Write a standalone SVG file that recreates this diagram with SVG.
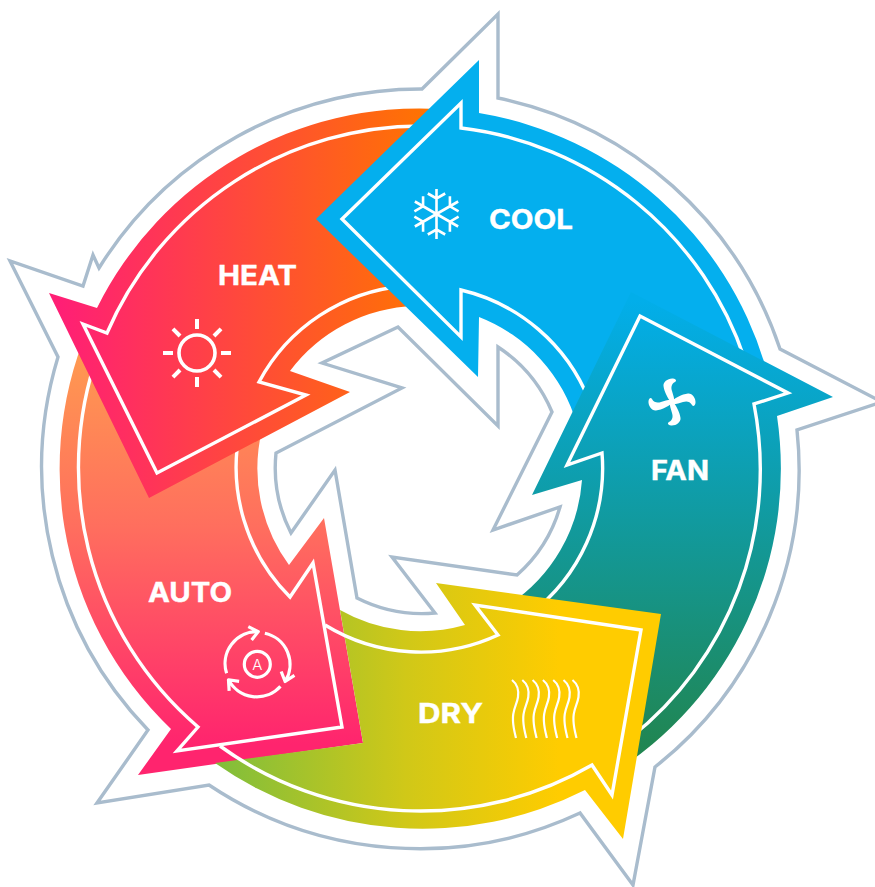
<svg xmlns="http://www.w3.org/2000/svg" xmlns:xlink="http://www.w3.org/1999/xlink" width="875" height="887" viewBox="0 0 875 887">
<style>
.grey{fill:none;stroke:#a9bccd;stroke-width:3.4;stroke-linejoin:miter}
.wl{fill:none;stroke:#fff;stroke-width:3.4;stroke-linejoin:miter}
.ic{fill:none;stroke:#fff;stroke-linecap:butt}
.lb{font-family:"Inter","Liberation Sans",sans-serif;font-weight:700;font-size:27px;fill:#fff;stroke:#fff;stroke-width:0.4}
</style>
<defs>
<linearGradient id="gHeat" gradientUnits="userSpaceOnUse" x1="60" y1="0" x2="430" y2="0"><stop offset="0" stop-color="#ff1f75"/><stop offset="1" stop-color="#ff7400"/></linearGradient>
<linearGradient id="gAuto" gradientUnits="userSpaceOnUse" x1="0" y1="350" x2="0" y2="745"><stop offset="0" stop-color="#ff9a50"/><stop offset="0.45" stop-color="#ff6e5e"/><stop offset="1" stop-color="#ff246e"/></linearGradient>
<linearGradient id="gFan" gradientUnits="userSpaceOnUse" x1="0" y1="300" x2="0" y2="755"><stop offset="0" stop-color="#02aeea"/><stop offset="1" stop-color="#21854f"/></linearGradient>
<linearGradient id="gDry" gradientUnits="userSpaceOnUse" x1="215" y1="0" x2="560" y2="0"><stop offset="0" stop-color="#7fbe3c"/><stop offset="0.55" stop-color="#d0c818"/><stop offset="1" stop-color="#ffcc00"/></linearGradient>
<path id="blade" fill="#fff" d="M0,2C-3,-2 -8,-10 -8.5,-16C-9,-20 -4,-24 1,-23.5C4,-23 5,-21 3,-20C-1,-18 -1,-14 0,-11C1,-7 3,-3 2,1Z"/>
<path id="wave" class="ic" stroke-width="2.2" d="M0,0C5,4 7,10 6,17C5,25 0,30 1,41C1.3,48 3,54 4,58"/>
<g id="sfArm"><path class="ic" stroke-width="2.6" d="M0,0V-25M-8.7,-20.5L0,-15.5L8.7,-20.5"/></g>
<g id="sunRay"><path class="ic" stroke-width="4" d="M0,-24V-34"/></g>
<g id="autoArc"><path class="ic" stroke-width="3.2" stroke-linecap="round" stroke-linejoin="round" d="M-30.7,9A32,32 0 0 1 1,-32.7M-9,-37.7L1,-32.7L-5.7,-24.3"/></g>
</defs>
<rect width="875" height="887" fill="#fff"/>
<g id="connectors">
<path class="grey" d="M498,98A379,379 0 0 1 780,349L882,402L797,430A379,379 0 0 1 655,767L633,885L580,813A379,379 0 0 1 209,785L97,803L148,730A379,379 0 0 1 58,357L10,261L83,286L93,255L99,268A379,379 0 0 1 422,89L498,14Z"/>
<path class="grey" d="M398,327L322,363L402,388L276,453A144,144 0 0 0 291,533L335,470L357,598A144,144 0 0 0 435,613L392,557L517,575A144,144 0 0 0 560,507L493,530L552,412A144,144 0 0 0 498,347L498,426Z"/>
</g>
<g id="node-auto">
<path fill="url(#gAuto)" d="M324,518L363,743L138,775L171,729A360,360 0 0 1 100,303L262,430A163,163 0 0 0 289,565Z"/>
<path class="wl" d="M240,430A183,183 0 0 0 290,597L313,563L342,727L177,751L198,727A342,342 0 0 1 103,340"/>
<text class="lb" x="148" y="602" textLength="84" lengthAdjust="spacingAndGlyphs">AUTO</text>
<g id="icon-auto" transform="translate(257.3,664.3)">
<use href="#autoArc"/><use href="#autoArc" transform="rotate(120)"/><use href="#autoArc" transform="rotate(240)"/>
<circle r="13" class="ic" stroke-width="3.2"/>
<text x="0" y="5.6" text-anchor="middle" font-family="Inter,'Liberation Sans',sans-serif" font-weight="300" font-size="15" fill="#fff">A</text>
</g>
</g>
<g id="node-heat">
<path fill="url(#gHeat)" d="M49,293L149,498L350,392L290,371A163,163 0 0 1 415,306L440,109A360,360 0 0 0 97,308Z"/>
<path class="wl" d="M425,126A342,342 0 0 0 107,333L83,324L157,473L306,395L259,382A183,183 0 0 1 405,286"/>
<text class="lb" x="218" y="285" textLength="79" lengthAdjust="spacingAndGlyphs">HEAT</text>
<g id="icon-heat" transform="translate(197,353)">
<circle r="18" class="ic" stroke-width="3.6"/>
<use href="#sunRay"/><use href="#sunRay" transform="rotate(45)"/><use href="#sunRay" transform="rotate(90)"/><use href="#sunRay" transform="rotate(135)"/><use href="#sunRay" transform="rotate(180)"/><use href="#sunRay" transform="rotate(225)"/><use href="#sunRay" transform="rotate(270)"/><use href="#sunRay" transform="rotate(315)"/>
</g>
</g>
<g id="node-cool">
<path fill="#04afee" d="M316,219L479,60L479,113A360,360 0 0 1 765,365L577,425A163,163 0 0 0 479,317L478,377Z"/>
<path class="wl" d="M589,400A183,183 0 0 0 461,290L461,337L342,219L461,103L461,128A342,342 0 0 1 745,360"/>
<text class="lb" x="489" y="229" textLength="84" lengthAdjust="spacingAndGlyphs">COOL</text>
<g id="icon-cool" transform="translate(436.5,214)">
<use href="#sfArm"/><use href="#sfArm" transform="rotate(60)"/><use href="#sfArm" transform="rotate(120)"/><use href="#sfArm" transform="rotate(180)"/><use href="#sfArm" transform="rotate(240)"/><use href="#sfArm" transform="rotate(300)"/>
</g>
</g>
<g id="node-fan">
<path fill="url(#gFan)" d="M631,292L833,397L777,416A360,360 0 0 1 610,775L510,604A163,163 0 0 0 582,480L532,495Z"/>
<path class="wl" d="M530,614A183,183 0 0 0 602,453L567,465L640,316L788,393L754,404A342,342 0 0 1 630,738"/>
<text class="lb" x="651" y="480" textLength="58" lengthAdjust="spacingAndGlyphs">FAN</text>
<g id="icon-fan" transform="translate(672,402)">
<use href="#blade"/><use href="#blade" transform="rotate(90)"/><use href="#blade" transform="rotate(180)"/><use href="#blade" transform="rotate(270)"/>
</g>
</g>
<g id="node-dry">
<path fill="url(#gDry)" d="M436,583L661,614L623,839L585,790A360,360 0 0 1 215,763L363,743L340,610A163,163 0 0 0 465,625Z"/>
<path class="wl" d="M325,625A183,183 0 0 0 498,635L475,605L641,630L612,795L592,765A342,342 0 0 1 220,746"/>
<text class="lb" x="418" y="723" textLength="65" lengthAdjust="spacingAndGlyphs">DRY</text>
<g id="icon-dry" transform="translate(512,680)">
<use href="#wave"/><use href="#wave" x="10.3"/><use href="#wave" x="20.6"/><use href="#wave" x="30.9"/><use href="#wave" x="41.2"/><use href="#wave" x="51.5"/><use href="#wave" x="60.5"/>
</g>
</g>
</svg>
